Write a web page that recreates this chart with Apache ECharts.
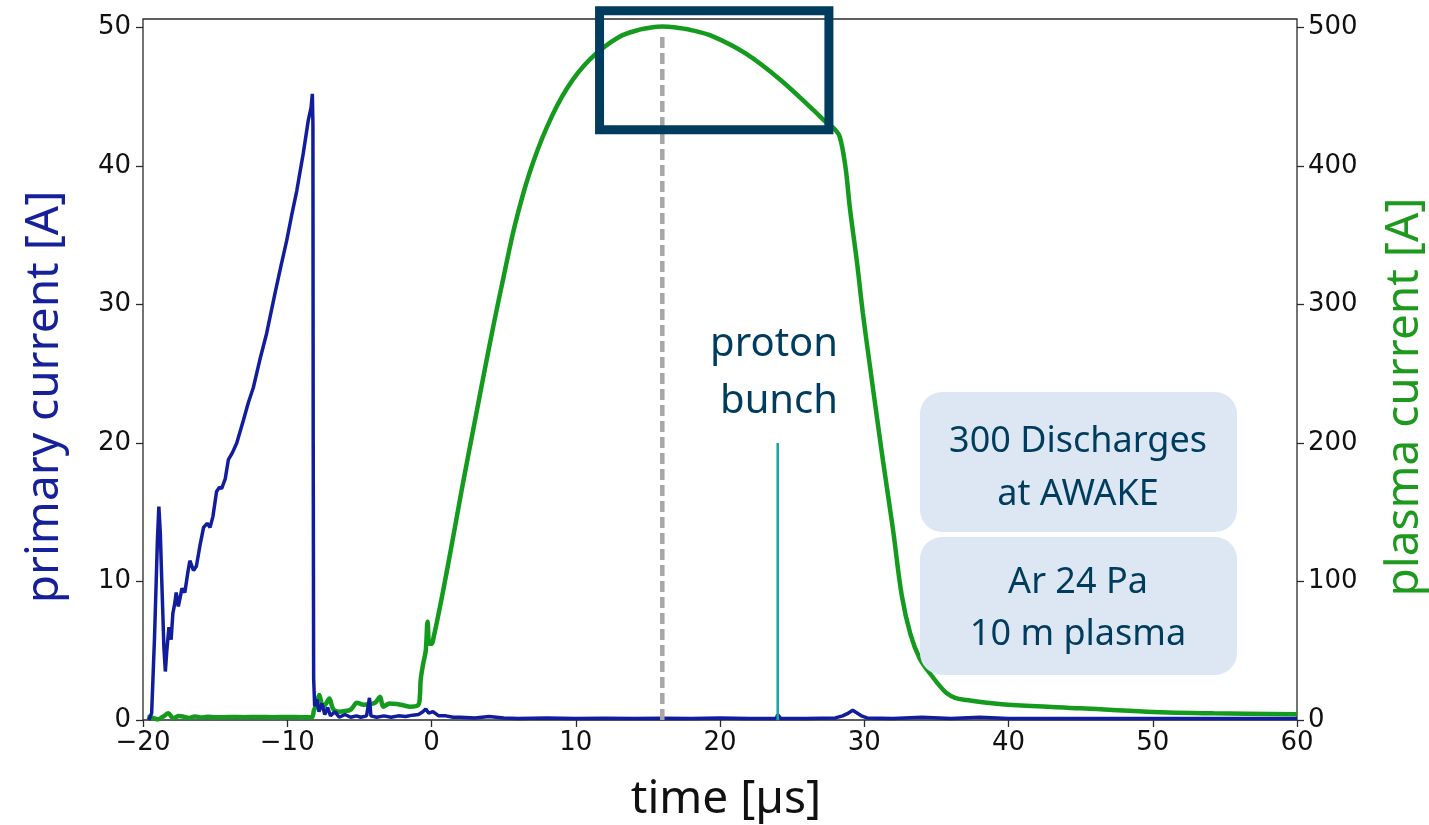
<!DOCTYPE html>
<html>
<head>
<meta charset="utf-8">
<script src="https://cdn.jsdelivr.net/npm/echarts@6/dist/echarts.min.js"></script>
<style>
  html, body { margin: 0; padding: 0; background: #fff; }
  #chart { width: 1429px; height: 825px; }
</style>
</head>
<body>
<div id="chart"></div>
<script>
// primary current (left axis, A)
const primaryTime = [-19.6, -19.4, -19.2, -19.0, -18.9, -18.8, -18.7, -18.62, -18.55, -18.45, -18.35, -18.2, -18.05, -17.93, -17.8, -17.7, -17.55, -17.45, -17.3, -17.1, -16.9, -16.75, -16.5, -16.3, -16.05, -15.8, -15.55, -15.35, -15.15, -14.9, -14.7, -14.55, -14.3, -14.08, -13.8, -13.5, -13.05, -12.7, -12.35, -11.9, -11.43, -10.85, -10.45, -10.04, -9.7, -9.34, -8.89, -8.54, -8.35, -8.26, -8.22, -8.2, -8.17, -8.1, -7.95, -7.8, -7.6, -7.4, -7.2, -7.0, -6.7, -6.4, -6.0, -5.6, -5.2, -4.9, -4.5, -4.3, -4.2, -3.8, -3.3, -2.8, -2.3, -1.8, -1.3, -0.9, -0.6, -0.4, -0.2, 0.1, 0.5, 1.0, 1.5, 2.0, 3, 4, 5, 6, 8, 10, 12, 14, 16, 18, 20, 22, 23.9, 24.0, 24.2, 26, 28, 28.5, 28.9, 29.2, 29.5, 29.8, 30.2, 32, 34, 36, 38, 40, 44, 48, 52, 56, 60];
const primaryCurrent = [0, 0.5, 6, 13, 15.4, 13.5, 10.1, 7.5, 5.2, 3.5, 5.0, 6.7, 5.8, 7.7, 8.4, 9.2, 8.2, 8.7, 9.5, 9.2, 10.6, 11.5, 10.8, 11.1, 12.6, 13.9, 14.2, 13.9, 14.7, 16.5, 16.8, 16.7, 17.4, 18.8, 19.3, 20.0, 21.6, 22.9, 24.0, 26.0, 27.9, 30.8, 32.7, 34.6, 36.4, 38.2, 40.9, 43.3, 44.2, 45.2, 43.0, 20, 3, 1.0, 1.5, 0.6, 1.2, 0.4, 0.9, 0.3, 0.6, 0.2, 0.4, 0.2, 0.3, 0.2, 0.3, 1.6, 0.3, 0.2, 0.3, 0.2, 0.3, 0.25, 0.35, 0.4, 0.6, 0.8, 0.5, 0.6, 0.3, 0.3, 0.2, 0.2, 0.15, 0.25, 0.15, 0.1, 0.15, 0.1, 0.12, 0.1, 0.12, 0.1, 0.15, 0.1, 0.1, 0.4, 0.1, 0.1, 0.15, 0.3, 0.5, 0.7, 0.5, 0.3, 0.15, 0.1, 0.2, 0.1, 0.2, 0.1, 0.1, 0.1, 0.1, 0.1, 0.1];

// plasma current (right axis, A)
const plasmaTime = [-19.7, -19.3, -18.95, -18.6, -18.24, -17.9, -17.5, -17.2, -16.8, -16.4, -16.0, -15.5, -15.0, -14, -13, -12, -11, -10, -9, -8.3, -8.15, -7.95, -7.78, -7.62, -7.5, -7.3, -7.08, -6.9, -6.76, -6.34, -6.0, -5.65, -5.4, -5.19, -4.7, -4.26, -3.9, -3.57, -3.34, -2.9, -2.41, -1.9, -1.49, -0.92, -0.8, -0.75, -0.57, -0.4, -0.27, -0.15, 0.01, 0.15, 0.36, 0.82, 1.5, 2.2, 2.9, 3.6, 4.3, 5.0, 5.8, 6.8, 8.0, 9.4, 11.0, 13.0, 14.5, 15.3, 16.0, 16.8, 18.0, 19.5, 21.8, 24.2, 26.5, 27.4, 27.9, 28.3, 28.7, 29.0, 29.5, 29.9, 30.4, 30.9, 31.3, 32.0, 32.6, 33.2, 33.86, 34.6, 35.2, 35.7, 36.3, 37.1, 38.5, 40.3, 45.0, 49.6, 54.2, 60];
const plasmaCurrent = [2.4, 1.5, 0.5, 2.5, 4.8, 1.2, 2.8, 2.4, 1.5, 2.6, 1.8, 2.4, 1.9, 2.2, 2.0, 2.2, 2.0, 2.2, 2.0, 2.0, 7, 12, 18, 12, 9.6, 12, 15.6, 10, 7.2, 6, 6.5, 7.2, 10, 12.5, 11, 11.5, 12.5, 16.8, 9.6, 12, 11.5, 10.5, 9.6, 10.8, 18, 29, 41, 50, 71, 55, 55, 60, 70, 94, 132, 172, 210, 248, 285, 320, 358, 395, 428, 456, 477, 493, 498.5, 500, 500.5, 500, 498, 493.5, 481, 462, 440, 431, 427, 421, 399, 370, 330, 294, 255, 217, 187, 137, 90, 62, 44, 33, 25, 19.5, 16, 14.4, 12.5, 10.8, 8.4, 6.0, 4.8, 4.1];

// proton bunch arrival and peak marker
const protonTime = [24, 24];
const protonLevel = [0, 20];
const peakTime = [16, 16];
const peakLevel = [0, 49.6];
// highlighted region [t0, t1] on the left axis [y0, y1]
const boxTime = [11.65, 27.55];
const boxLevel = [42.6, 51.2];

const zip = (a, b) => a.map((v, i) => [v, b[i]]);

const chart = echarts.init(document.getElementById('chart'));
const tickFont = {fontFamily: 'DejaVu Sans', fontSize: 26, color: '#111'};
const minus = v => (v < 0 ? '\u2212' + Math.abs(v) : String(v));
const tick = {show: true, length: 7, lineStyle: {color: '#2a2a2a', width: 1.3}};

const option = {
  animation: false,
  backgroundColor: '#fff',
  grid: {
    left: 143, right: 132, top: 19, bottom: 105,
    show: true, borderColor: '#2a2a2a', borderWidth: 1.3
  },
  xAxis: {
    type: 'value', min: -20, max: 60, interval: 10,
    axisLine: {show: false, onZero: false},
    axisTick: tick,
    axisLabel: Object.assign({margin: 10, formatter: minus}, tickFont),
    splitLine: {show: false}
  },
  yAxis: [
    {
      type: 'value', min: 0, max: 50.6, interval: 10, position: 'left',
      axisLine: {show: false, onZero: false},
      axisTick: tick,
      axisLabel: Object.assign({margin: 12, showMaxLabel: false,
        formatter: v => (v % 10 === 0 ? String(v) : '')}, tickFont),
      splitLine: {show: false}
    },
    {
      type: 'value', min: 0, max: 506, interval: 100, position: 'right',
      axisLine: {show: false, onZero: false},
      axisTick: tick,
      axisLabel: Object.assign({margin: 11, showMaxLabel: false,
        formatter: v => (v % 100 === 0 ? String(v) : '')}, tickFont),
      splitLine: {show: false}
    }
  ],
  series: [
    {
      name: 'plasma current', type: 'line', yAxisIndex: 1,
      data: zip(plasmaTime, plasmaCurrent),
      symbol: 'none', smooth: 0.35,
      lineStyle: {color: '#149b1e', width: 4.5}, z: 2
    },
    {
      name: 'primary current', type: 'line', yAxisIndex: 0,
      data: zip(primaryTime, primaryCurrent),
      symbol: 'none',
      lineStyle: {color: '#111d9c', width: 3.5}, z: 3
    },
    {
      name: 'proton bunch', type: 'line', yAxisIndex: 0,
      data: zip(protonTime, protonLevel),
      symbol: 'none',
      lineStyle: {color: '#1ba5a2', width: 2.5}, z: 4
    },
    {
      name: 'peak', type: 'line', yAxisIndex: 0,
      data: zip(peakTime, peakLevel),
      symbol: 'none',
      lineStyle: {color: '#a6a6a6', width: 4.5, type: [11, 5]}, z: 5
    }
  ]
};
chart.setOption(option);

const p0 = chart.convertToPixel({xAxisIndex: 0, yAxisIndex: 0}, [boxTime[0], boxLevel[1]]);
const p1 = chart.convertToPixel({xAxisIndex: 0, yAxisIndex: 0}, [boxTime[1], boxLevel[0]]);
const navy = '#003c5d';
const titleFont = 'Noto Sans';

function label(text, x, y, size, color, align, rotation, lineHeight) {
  return {
    type: 'text', x: x, y: y, rotation: rotation || 0, z: 20,
    style: {
      text: text, fill: color, fontFamily: titleFont, fontSize: size,
      lineHeight: lineHeight || size * 1.2,
      align: align, textAlign: align,
      verticalAlign: 'middle', textVerticalAlign: 'middle'
    }
  };
}

chart.setOption({
  graphic: [
    {
      type: 'rect', z: 10,
      shape: {x: p0[0], y: p0[1], width: p1[0] - p0[0], height: p1[1] - p0[1]},
      style: {fill: 'none', stroke: navy, lineWidth: 9}
    },
    {type: 'rect', z: 8, shape: {x: 920, y: 392, width: 317, height: 140, r: 22}, style: {fill: '#dde7f3'}},
    {type: 'rect', z: 8, shape: {x: 920, y: 537, width: 317, height: 138, r: 22}, style: {fill: '#dde7f3'}},
    label('300 Discharges\nat AWAKE', 1078, 468, 36, navy, 'center', 0, 53),
    label('Ar 24 Pa\n10 m plasma', 1078, 609, 36, navy, 'center', 0, 52),
    label('proton\nbunch', 838, 373, 40, navy, 'right', 0, 57),
    label('primary current [A]', 45, 397, 46, '#16209a', 'center', Math.PI / 2),
    label('plasma current [A]', 1405, 397, 46, '#1d9a1d', 'center', Math.PI / 2),
    label('time [\u00b5s]', 726, 800, 46, '#111', 'center')
  ]
});
</script>
</body>
</html>
